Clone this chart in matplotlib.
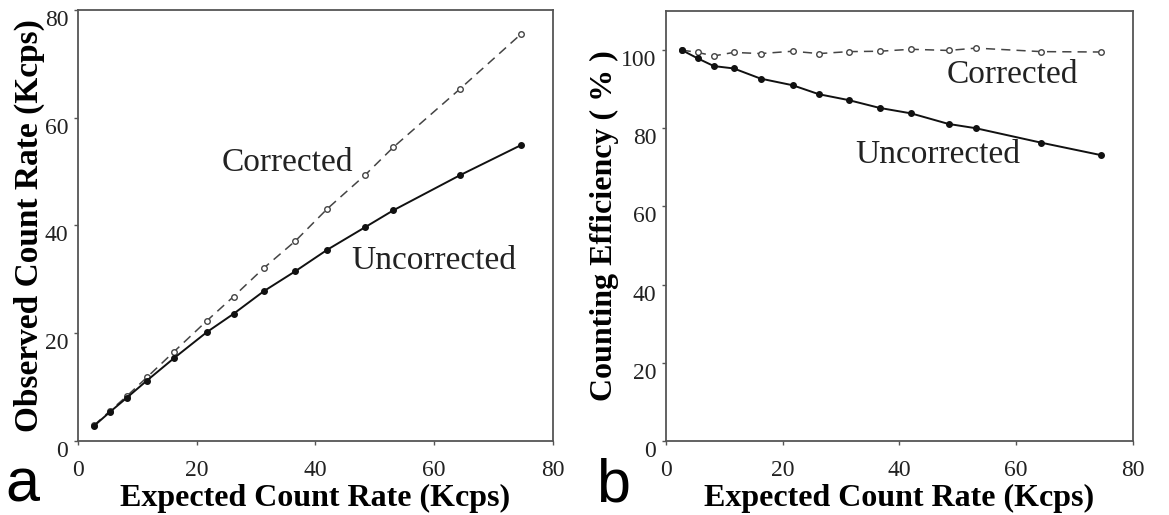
import matplotlib
matplotlib.use("Agg")
import matplotlib.pyplot as plt

# expected count rate (Kcps)
expected = [2.7, 5.4, 8.2, 11.6, 16.2, 21.7, 26.2, 31.3, 36.6, 42.0, 48.4, 53.1, 64.3, 74.6]

# observed count rate (Kcps)
observed_corrected = [2.9, 5.6, 8.3, 11.8, 16.6, 22.3, 26.8, 32.1, 37.1, 43.1, 49.4, 54.5, 65.3, 75.5]
observed_uncorrected = [2.8, 5.4, 8.0, 11.2, 15.4, 20.2, 23.6, 27.8, 31.5, 35.5, 39.7, 42.8, 49.3, 54.9]

# counting efficiency (%)
eff_corrected = [100.0, 99.4, 98.5, 99.4, 99.1, 99.7, 99.1, 99.6, 99.7, 100.2, 99.9, 100.5, 99.6, 99.5]
eff_uncorrected = [100.0, 97.9, 95.9, 95.3, 92.7, 91.0, 88.7, 87.2, 85.2, 83.8, 81.1, 80.0, 76.3, 73.1]

serif = ["Liberation Serif", "DejaVu Serif"]
plt.rcParams["font.family"] = serif

fig = plt.figure(figsize=(11.69, 5.15), dpi=100)
ax_a = fig.add_axes([0.0667, 0.1437, 0.4063, 0.8370])
ax_b = fig.add_axes([0.5697, 0.1437, 0.3995, 0.8350])

spine_col = "#555555"
dash_col = "#444444"


def style(ax, yticks):
    for s in ax.spines.values():
        s.set_color(spine_col)
        s.set_linewidth(1.3)
    ax.tick_params(direction="out", length=3, width=1, color=spine_col,
                   labelsize=17, labelcolor="#222222")
    ax.tick_params(axis="x", pad=11)
    ax.tick_params(axis="y", pad=4)
    ax.set_xlim(0, 80)
    ax.set_xticks([0, 20, 40, 60, 80])
    ax.set_yticks(yticks)
    # y tick labels hang just below their tick
    for lab in ax.get_yticklabels():
        lab.set_va("top")
    ax.set_xlabel("Expected Count Rate (Kcps)", fontsize=23, fontweight="bold", labelpad=2)


def curves(ax, y_corr, y_unc):
    ax.plot(expected, y_corr, ls=(0, (6, 4)), color=dash_col, lw=1.1,
            marker="o", ms=4, mfc="white", mec=dash_col, mew=1)
    ax.plot(expected, y_unc, ls="-", color="#111111", lw=1.4,
            marker="o", ms=4, mfc="#111111", mec="#111111", zorder=3)


# panel a: observed vs expected count rate
curves(ax_a, observed_corrected, observed_uncorrected)
ax_a.set_ylim(0, 80)
style(ax_a, [0, 20, 40, 60, 80])
ax_a.set_ylabel("Observed Count Rate (Kcps)", fontsize=24, fontweight="bold", labelpad=0)
ax_a.text(24.2, 51.6, "Corrected", fontsize=24, va="center", color="#222222")
ax_a.text(46.1, 33.4, "Uncorrected", fontsize=24, va="center", color="#222222")

# panel b: counting efficiency
curves(ax_b, eff_corrected, eff_uncorrected)
ax_b.set_ylim(0, 110)
style(ax_b, [0, 20, 40, 60, 80, 100])
ax_b.set_ylabel("Counting Efficiency ( % )", fontsize=23, fontweight="bold", labelpad=1)
ax_b.text(48.1, 93.6, "Corrected", fontsize=24, va="center", color="#222222")
ax_b.text(32.5, 73.1, "Uncorrected", fontsize=24, va="center", color="#222222")

# panel letters
letter_font = ["Liberation Sans", "DejaVu Sans"]
fig.text(0.005, 0.001, "a", fontsize=44, family=letter_font, va="bottom")
fig.text(0.510, 0.001, "b", fontsize=44, family=letter_font, va="bottom")

fig.savefig("out.png", dpi=100, facecolor="white")
